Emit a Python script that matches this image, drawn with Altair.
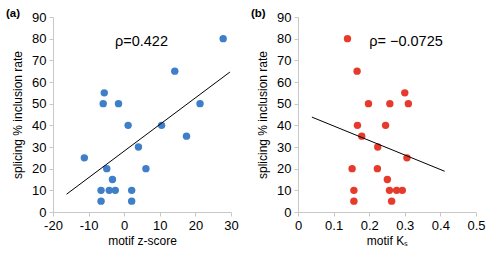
import altair as alt
import pandas as pd

# Panel (a): motif z-score vs splicing inclusion rate
a_x = [27.8, 14.2, 21.3, 10.5, 17.5, -5.6, -5.9, -1.6, 1.1, 4.0,
       6.1, -11.2, -4.9, -3.3, -6.5, -4.2, -2.5, 2.1, -6.5, 2.1]
a_y = [80, 65, 50, 40, 35, 55, 50, 50, 40, 30,
       20, 25, 20, 15, 10, 10, 10, 10, 5, 5]
a_fit_x = [-16.2, 29.7]
a_fit_y = [8.2, 64.6]

# Panel (b): motif Ks vs splicing inclusion rate
b_x = [0.139, 0.166, 0.198, 0.258, 0.300, 0.310, 0.167, 0.246, 0.179, 0.224,
       0.306, 0.152, 0.223, 0.251, 0.157, 0.257, 0.277, 0.293, 0.157, 0.263]
b_y = [80, 65, 50, 50, 55, 50, 40, 40, 35, 30,
       25, 20, 20, 15, 10, 10, 10, 10, 5, 5]
b_fit_x = [0.039, 0.412]
b_fit_y = [43.8, 18.8]

y_ticks = list(range(0, 100, 10))
a_ticks = [-20, -10, 0, 10, 20, 30]
b_ticks = [0, 0.1, 0.2, 0.3, 0.4, 0.5]

FONT = "Liberation Sans"
W, H = 178, 195


def panel(xs, ys, fx, fy, xdom, xticks, xtitle, color, rho, rho_x, label):
    pts = pd.DataFrame({"x": xs, "y": ys})
    fit = pd.DataFrame({"x": fx, "y": fy})
    xs_ = alt.Scale(domain=xdom, nice=False, zero=False)
    ys_ = alt.Scale(domain=[0, 90], nice=False)
    common = dict(labelOverlap=False, labelFlush=False, labelExpr="'' + datum.value")
    xax = alt.Axis(values=xticks, title=xtitle, **common)
    yax = alt.Axis(values=y_ticks, title="splicing % inclusion rate", **common)
    bx = alt.X("x:Q", scale=xs_, axis=xax)
    by = alt.Y("y:Q", scale=ys_, axis=yax)
    p = alt.Chart(pts).mark_circle(size=55, opacity=1, color=color).encode(x=bx, y=by)
    l = alt.Chart(fit).mark_line(color="black", strokeWidth=1).encode(x=bx, y=by)
    t = alt.Chart(pd.DataFrame({"x": [rho_x], "y": [78.5], "t": [rho]})).mark_text(
        align="left", baseline="middle", fontSize=14.5, font=FONT, color="black"
    ).encode(x=bx, y=by, text="t:N")
    lab = alt.Chart(pd.DataFrame({"t": [label]})).mark_text(
        align="left", baseline="middle", fontSize=11.5, fontWeight="bold", font=FONT, color="black"
    ).encode(x=alt.value(-47), y=alt.value(-3), text="t:N")
    return alt.layer(p, l, t, lab).properties(width=W, height=H)


pa = panel(a_x, a_y, a_fit_x, a_fit_y, [-20, 30], a_ticks, "motif z-score",
           "#3f7fc9", "ρ=0.422", -2.6, "(a)")
pb = panel(b_x, b_y, b_fit_x, b_fit_y, [0, 0.5], b_ticks, "motif Kₛ",
           "#e63b2c", "ρ= \u22120.0725", 0.2, "(b)")

chart = alt.hconcat(pa, pb, spacing=12).properties(
    padding={"left": 6, "top": 8, "right": 0, "bottom": 0}
).configure_view(stroke=None).configure_axis(
    grid=False,
    domainColor="#c8c8c8",
    tickColor="#c8c8c8",
    tickSize=4,
    labelFont=FONT,
    titleFont=FONT,
    labelFontSize=13,
    titleFontSize=12,
    titleFontWeight="normal",
    labelColor="black",
    titleColor="black",
    labelPadding=3,
).configure_axisY(titlePadding=7).configure_axisX(titlePadding=3)

chart.save("out.html", embed_options={"renderer": "svg", "actions": False})
